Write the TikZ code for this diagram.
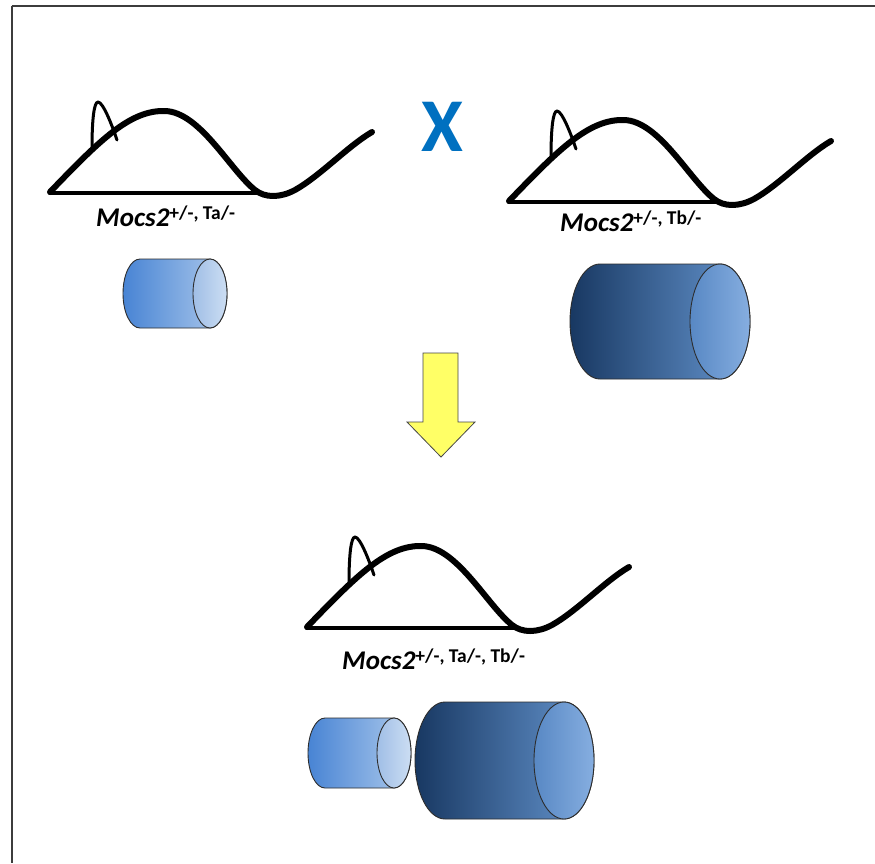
\documentclass[tikz,border=0pt]{standalone}
\usepackage{fontspec}
\setmainfont{Carlito}
\begin{document}
\begin{tikzpicture}[x=1pt,y=-1pt,
  frameline/.style={draw={rgb,255:red,60;green,60;blue,60}, line width=2pt},
  mbody/.style={line width=6pt, line cap=round, line join=round},
  mear/.style={line width=3pt, line cap=round, line join=round},
  mbase/.style={line width=4.5pt, line cap=round},
  genelabel/.style={anchor=base west, inner sep=0pt, font=\fontsize{27}{30}\selectfont\bfseries\itshape},
  cylline/.style={draw={rgb,255:red,45;green,45;blue,45}, line width=0.9pt},
  mouse/.pic={
    \draw[mbody] (0,0) .. controls (50,-52) and (80,-82) .. (115,-81)
      .. controls (150,-80) and (180,-22) .. (205,-2)
      .. controls (215,6) and (230,6) .. (245,-2)
      .. controls (270,-16) and (298,-46) .. (322,-60);
    \draw[mbase] (0,1) -- (208,1);
    \draw[mear] (42,-44) .. controls (42,-72) and (44,-90) .. (48,-90)
      .. controls (53,-90) and (62,-67) .. (67,-52);
  }]
\definecolor{sbodyL}{RGB}{72,132,212}
\definecolor{sbodyR}{RGB}{174,202,236}
\definecolor{sfaceL}{RGB}{160,190,230}
\definecolor{sfaceR}{RGB}{204,222,243}
\definecolor{bbodyL}{RGB}{24,56,98}
\definecolor{bbodyR}{RGB}{102,150,208}
\definecolor{bfaceL}{RGB}{88,136,196}
\definecolor{bfaceR}{RGB}{134,174,224}
\definecolor{crossblue}{RGB}{0,112,192}
\definecolor{arrowfill}{RGB}{255,255,102}
\newcommand{\supfont}{\fontsize{19.5}{22}\selectfont\upshape}
% cylinder: left x, right x, top y, bottom y, end radius, body colours, face colours
\newcommand{\drumshape}[9]{%
  \path[cylline, left color=#6, right color=#7]
    (#1+#5,#3) -- (#2-#5,#3)
    arc[start angle=90, end angle=-90, x radius=#5pt, y radius={(#4-#3)/2*1pt}]
    -- (#1+#5,#4)
    arc[start angle=270, end angle=90, x radius=#5pt, y radius={(#4-#3)/2*1pt}]
    -- cycle;
  \path[cylline, left color=#8, right color=#9]
    (#2-#5,{(#3+#4)/2}) ellipse[x radius=#5pt, y radius={(#4-#3)/2*1pt}];
}
\useasboundingbox (0,0) rectangle (875,863);
\fill[white] (0,0) rectangle (875,863);
% page frame
\draw[frameline] (11.5,5.5) -- (875,5.5);
\draw[frameline] (11.5,5.5) -- (11.5,863);

% parents
\pic at (50,192) {mouse};
\pic at (509,201) {mouse};
\node[genelabel] (labA) at (96,226) {Mocs2\raisebox{7pt}{\supfont +/-, Ta/-}};
\node[genelabel] (labB) at (560,231) {Mocs2\raisebox{7pt}{\supfont +/-, Tb/-}};
\node[text=crossblue, inner sep=0pt, font=\fontsize{76}{80}\selectfont\bfseries] (cross) at (442,127) {X};

\drumshape{123}{227}{259}{328}{17}{sbodyL}{sbodyR}{sfaceL}{sfaceR}
\drumshape{570}{750}{264}{379}{30}{bbodyL}{bbodyR}{bfaceL}{bfaceR}

% cross arrow
\path[draw={rgb,255:red,70;green,70;blue,70}, line width=0.8pt, fill=arrowfill]
  (423,353) -- (458,353) -- (458,422) -- (475,422) -- (441,457) -- (407,422) -- (423,422) -- cycle;

% offspring
\pic at (307,627) {mouse};
\node[genelabel] (labC) at (342,669) {Mocs2\raisebox{7pt}{\supfont +/-, Ta/-, Tb/-}};
\drumshape{308}{411}{718}{788}{17}{sbodyL}{sbodyR}{sfaceL}{sfaceR}
\drumshape{415}{594}{702}{819}{30}{bbodyL}{bbodyR}{bfaceL}{bfaceR}
\end{tikzpicture}
\end{document}
